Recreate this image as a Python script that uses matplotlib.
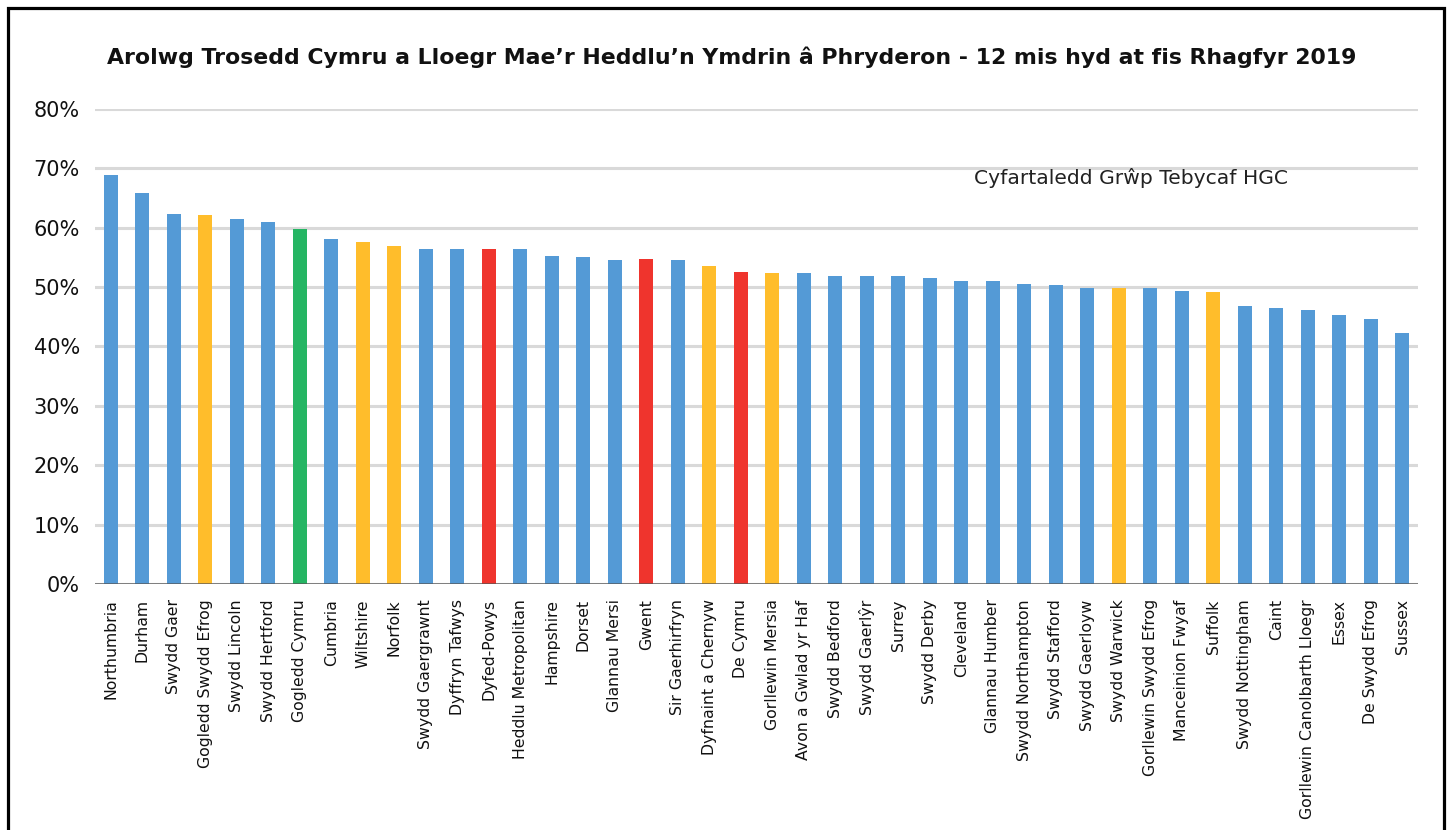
import matplotlib
matplotlib.use("Agg")
import matplotlib.pyplot as plt
from matplotlib.patches import Rectangle
from matplotlib.ticker import PercentFormatter, MultipleLocator

plt.rcParams['font.family'] = ['DejaVu Sans']

forces = [
    "Northumbria", "Durham", "Swydd Gaer", "Gogledd Swydd Efrog", "Swydd Lincoln",
    "Swydd Hertford", "Gogledd Cymru", "Cumbria", "Wiltshire", "Norfolk",
    "Swydd Gaergrawnt", "Dyffryn Tafwys", "Dyfed-Powys", "Heddlu Metropolitan",
    "Hampshire", "Dorset", "Glannau Mersi", "Gwent", "Sir Gaerhirfryn",
    "Dyfnaint a Chernyw", "De Cymru", "Gorllewin Mersia", "Avon a Gwlad yr Haf",
    "Swydd Bedford", "Swydd Gaerlŷr", "Surrey", "Swydd Derby", "Cleveland",
    "Glannau Humber", "Swydd Northampton", "Swydd Stafford", "Swydd Gaerloyw",
    "Swydd Warwick", "Gorllewin Swydd Efrog", "Manceinion Fwyaf", "Suffolk",
    "Swydd Nottingham", "Caint", "Gorllewin Canolbarth Lloegr", "Essex",
    "De Swydd Efrog", "Sussex",
]
values = [
    68.8, 65.8, 62.3, 62.1, 61.4,
    60.9, 59.8, 58.1, 57.6, 56.9,
    56.4, 56.4, 56.5, 56.5,
    55.3, 55.0, 54.5, 54.8, 54.5,
    53.5, 52.5, 52.3, 52.3,
    51.9, 51.9, 51.8, 51.6, 51.0,
    51.0, 50.6, 50.3, 49.8,
    49.8, 49.8, 49.3, 49.1,
    46.8, 46.4, 46.1, 45.3,
    44.6, 42.2,
]
# N = Gogledd Cymru, W = other Welsh forces, S = most similar group, O = others
groups = [
    "O", "O", "O", "S", "O", "O", "N", "O", "S", "S",
    "O", "O", "W", "O", "O", "O", "O", "W", "O", "S",
    "W", "S", "O", "O", "O", "O", "O", "O", "O", "O",
    "O", "O", "S", "O", "O", "S", "O", "O", "O", "O",
    "O", "O",
]

palette = {"O": "#549AD6", "S": "#FFBD2B", "N": "#25B563", "W": "#EF342D"}
colors = [palette[g] for g in groups]

fig = plt.figure(figsize=(14.51, 8.30), dpi=100)
ax = fig.add_axes([0.0655, 0.2964, 0.9118, 0.5723])

x = list(range(len(forces)))
ax.bar(x, values, width=0.445, color=colors, zorder=2)

ax.set_xlim(-0.5, len(forces) - 0.5)
ax.set_ylim(0, 80)
ax.yaxis.set_major_locator(MultipleLocator(10))
ax.yaxis.set_major_formatter(PercentFormatter(decimals=0))
ax.grid(axis='y', color='#D9D9D9', linewidth=2.2, zorder=0)
ax.set_axisbelow(True)
ax.axhline(0, color='#555555', linewidth=2.0, alpha=0.75, zorder=3)

for s in ax.spines.values():
    s.set_visible(False)
ax.tick_params(axis='both', length=0)
ax.tick_params(axis='y', labelsize=15, pad=11, labelcolor='#111111')
ax.set_xticks(x)
ax.set_xticklabels(forces, rotation=90, fontsize=11.3, color='#111111')
ax.tick_params(axis='x', pad=11)

ax.text(0.664, 0.855, "Cyfartaledd Grŵp Tebycaf HGC", transform=ax.transAxes,
        fontsize=14.6, color='#222222', va='center', ha='left')

fig.text(0.5045, 0.931,
         "Arolwg Trosedd Cymru a Lloegr Mae’r Heddlu’n Ymdrin â Phryderon - 12 mis hyd at fis Rhagfyr 2019",
         ha='center', va='center', fontsize=15.85, fontweight='bold', color='#111111')

frame = Rectangle((0.0055, -0.05), 0.9895, 1.0405, transform=fig.transFigure,
                  fill=False, edgecolor='black', linewidth=2.3)
fig.patches.append(frame)

fig.savefig("out.png", dpi=100, facecolor='white')
